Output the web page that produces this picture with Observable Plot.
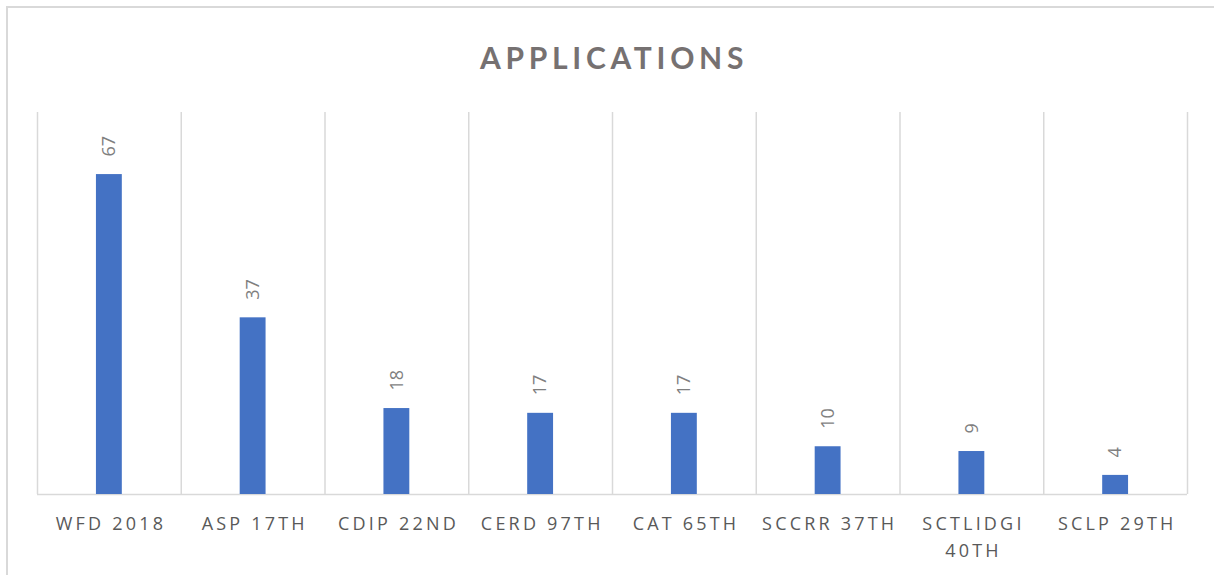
<!DOCTYPE html>
<html>
<head>
<meta charset="utf-8">
<script src="https://cdn.jsdelivr.net/npm/d3@7"></script>
<script src="https://cdn.jsdelivr.net/npm/@observablehq/plot@0.6"></script>
<style>
  html, body { margin: 0; padding: 0; background: #fff; }
  #wrap { position: relative; width: 1214px; height: 575px; overflow: hidden; }
  #border { position: absolute; left: 6px; top: 6px; width: 1220px; height: 580px; border: 2px solid #d9d9d9; box-sizing: border-box; }
  #title { position: absolute; left: 0; width: 1228px; top: 39px; text-align: center;
           font-family: Lato, sans-serif; font-weight: 700; font-size: 30px; letter-spacing: 4.7px; color: #767171; }
  #chart { position: absolute; left: 0; top: 0; }
  .cat text { letter-spacing: 3.2px; }
</style>
</head>
<body>
<div id="wrap">
  <div id="border"></div>
  <div id="title">APPLICATIONS</div>
  <div id="chart"></div>
</div>
<script>
const categories = ["WFD 2018", "ASP 17TH", "CDIP 22ND", "CERD 97TH", "CAT 65TH", "SCCRR 37TH", "SCTLIDGI 40TH", "SCLP 29TH"];
const tickLabels = ["WFD 2018", "ASP 17TH", "CDIP 22ND", "CERD 97TH", "CAT 65TH", "SCCRR 37TH", "SCTLIDGI\n40TH", "SCLP 29TH"];
const values = [67, 37, 18, 17, 17, 10, 9, 4];

const data = categories.map((c, i) => ({category: c, value: values[i], label: tickLabels[i]}));

const W = 1214, H = 575, mL = 37, mR = 27, mT = 112, mB = 81;
const half = (W - mL - mR) / categories.length / 2;
const grid = "#d9d9d9";

const chart = Plot.plot({
  width: W,
  height: H,
  marginTop: mT,
  marginBottom: mB,
  marginLeft: mL,
  marginRight: mR,
  style: {background: "transparent", overflow: "visible"},
  x: {domain: categories, paddingInner: 0.82, paddingOuter: 0.41, round: false, axis: null},
  y: {domain: [0, 80], axis: null},
  marks: [
    Plot.ruleX(categories, {x: d => d, dx: -half, stroke: grid, strokeWidth: 1.5}),
    Plot.ruleX([categories[categories.length - 1]], {x: d => d, dx: half, stroke: grid, strokeWidth: 1.5}),
    Plot.ruleY([0], {stroke: grid, strokeWidth: 1.5}),
    Plot.barY(data, {x: "category", y: "value", fill: "#4472c4"}),
    Plot.text(data, {x: "category", y: "value", text: d => String(d.value), rotate: -90,
      textAnchor: "start", dy: -18, fontSize: 18, fill: "#7f7f7f", fontFamily: "'Open Sans', sans-serif"}),
    Plot.text(data, {x: "category", frameAnchor: "bottom", text: "label", lineAnchor: "top",
      dy: 16, dx: 1.6, lineHeight: 1.5, fontSize: 18, fill: "#595959", fontFamily: "'Open Sans', sans-serif", className: "cat"})
  ]
});
document.getElementById("chart").appendChild(chart);
</script>
</body>
</html>
